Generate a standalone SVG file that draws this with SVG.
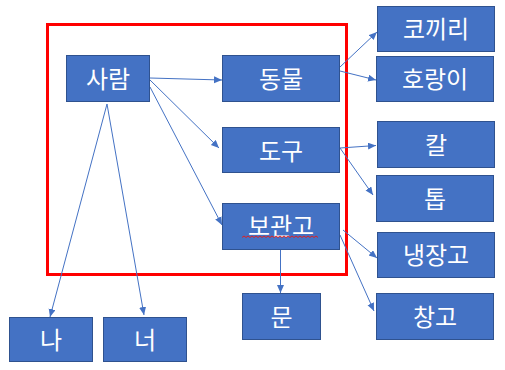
<svg xmlns="http://www.w3.org/2000/svg" width="505" height="370" viewBox="0 0 505 370">
<style>
.n rect{fill:#4472C4;stroke:#2F528F;stroke-width:1}
.n text{fill:#fff;font-family:"Noto Sans CJK KR","Malgun Gothic",sans-serif;font-size:24px;text-anchor:middle;dominant-baseline:central}
.c line{stroke:#4472C4;stroke-width:1;marker-end:url(#a)}
</style>
<defs>
<marker id="a" markerUnits="userSpaceOnUse" markerWidth="9" markerHeight="8" refX="8" refY="3.5" orient="auto">
<path d="M0,0 L8,3.5 L0,7 z" fill="#4472C4"/>
</marker>
</defs>
<rect x="47.5" y="24.5" width="299" height="250" fill="none" stroke="#FF0000" stroke-width="3"/>
<g class="c">
<line x1="150" y1="78" x2="222" y2="80"/>
<line x1="150" y1="80" x2="219" y2="148"/>
<line x1="150" y1="87" x2="222" y2="225"/>
<line x1="107" y1="104" x2="50" y2="317"/>
<line x1="107" y1="104" x2="144" y2="315"/>
<line x1="280.5" y1="249" x2="280.5" y2="293"/>
<line x1="340" y1="67" x2="377" y2="32"/>
<line x1="340" y1="71" x2="376" y2="80"/>
<line x1="340" y1="148" x2="376" y2="145.5"/>
<line x1="340" y1="148" x2="373" y2="195"/>
<line x1="343" y1="230" x2="377" y2="258"/>
<line x1="340" y1="235" x2="374" y2="311"/>
</g>
<g id="n-saram" class="n"><rect x="66.5" y="55.5" width="83" height="46"/><text x="108" y="77">사람</text></g>
<g id="n-dongmul" class="n"><rect x="222.5" y="55.5" width="117" height="46"/><text x="281" y="77">동물</text></g>
<g id="n-dogu" class="n"><rect x="222.5" y="127.5" width="117" height="45"/><text x="281" y="149">도구</text></g>
<g id="n-bogwango" class="n"><rect x="222.5" y="203.5" width="117" height="46"/><text x="281" y="224">보관고</text></g>
<path d="M242,237.5 l2,-1.5 l2,1.5 l2,-1.5 l2,1.5 l2,-1.5 l2,1.5 l2,-1.5 l2,1.5 l2,-1.5 l2,1.5 l2,-1.5 l2,1.5 l2,-1.5 l2,1.5 l2,-1.5 l2,1.5 l2,-1.5 l2,1.5 l2,-1.5 l2,1.5 l2,-1.5 l2,1.5 l2,-1.5 l2,1.5 l2,-1.5 l2,1.5 l2,-1.5 l2,1.5 l2,-1.5 l2,1.5 l2,-1.5 l2,1.5 l2,-1.5 l2,1.5 l2,-1.5 l2,1.5 l2,-1.5 l2,1.5" fill="none" stroke="#E02020" stroke-width="1"/>
<g id="n-kokkiri" class="n"><rect x="377.5" y="6.5" width="117" height="45"/><text x="436" y="27">코끼리</text></g>
<g id="n-horangi" class="n"><rect x="376.5" y="56.5" width="117" height="45"/><text x="435" y="77">호랑이</text></g>
<g id="n-kal" class="n"><rect x="377.5" y="121.5" width="117" height="46"/><text x="436" y="143">칼</text></g>
<g id="n-top" class="n"><rect x="376.5" y="175.5" width="117" height="46"/><text x="435" y="197">톱</text></g>
<g id="n-naengjanggo" class="n"><rect x="377.5" y="232.5" width="117" height="45"/><text x="436" y="253">냉장고</text></g>
<g id="n-changgo" class="n"><rect x="376.5" y="293.5" width="117" height="46"/><text x="435" y="315">창고</text></g>
<g id="n-mun" class="n"><rect x="242.5" y="293.5" width="78" height="46"/><text x="281.5" y="315">문</text></g>
<g id="n-na" class="n"><rect x="9.5" y="317.5" width="83" height="44"/><text x="51" y="338">나</text></g>
<g id="n-neo" class="n"><rect x="103.5" y="317.5" width="83" height="44"/><text x="145" y="338">너</text></g>
</svg>
